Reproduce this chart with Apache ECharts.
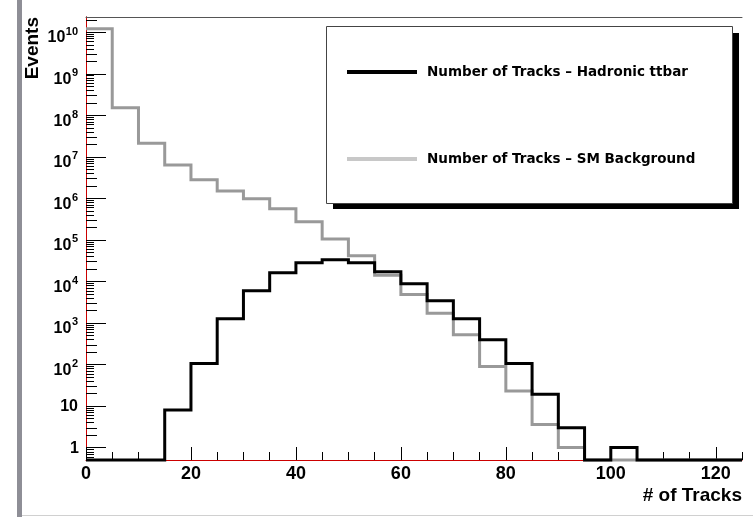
<!DOCTYPE html>
<html>
<head>
<meta charset="utf-8">
<script src="https://cdn.jsdelivr.net/npm/echarts@6/dist/echarts.min.js"></script>
<style>
html,body{margin:0;padding:0;background:#fff;}
#chart{width:753px;height:517px;}
</style>
</head>
<body>
<div id="chart"></div>
<script>
// ---- data ----
const binEdges = [0,5,10,15,20,25,30,35,40,45,50,55,60,65,70,75,80,85,90,95,100,105,110,115,120,125];
const bgName = 'Number of Tracks \u2013 SM Background';
const ttName = 'Number of Tracks \u2013 Hadronic ttbar';
const bgValues = [1.2e10,1.5e8,2.1e7,6.3e6,2.8e6,1.5e6,9.7e5,5.6e5,2.7e5,1.05e5,4.1e4,1.4e4,4.8e3,1.7e3,520,89,23,3.6,1,0,0,0,0,0,0];
const ttValues = [0,0,0,8,105,1260,5900,1.6e4,2.8e4,3.3e4,2.8e4,1.7e4,8.7e3,3.4e3,1260,390,105,19,3,0,1,0,0,0,0];
const xTickLabels = [0,20,40,60,80,100,120];
const yDecades = [-1,0,1,2,3,4,5,6,7,8,9,10];
const Y_MIN = 0.5, Y_MAX = 2.3e10;
const X_MIN = 0, X_MAX = 125;

// ---- build ----
function stepData(vals){
  return binEdges.map((e,i)=>{
    const v = vals[Math.min(i, vals.length-1)];
    return [e, v > 0 ? v : Y_MIN];
  });
}
const yTickData = [];
yDecades.forEach(n=>{
  for(let k=1;k<=9;k++){
    const v = k*Math.pow(10,n);
    if(v>Y_MIN && v<=Y_MAX) yTickData.push([0, v, k, n]);
  }
});
const FONT = '"Liberation Sans", Arial, sans-serif';
function txt(x, y, s, size, align){
  return {type:'text', x:x, y:y, silent:true,
    style:{text:s, fill:'#000', font:'bold '+size+'px '+FONT, align:align, verticalAlign:'middle',
           textAlign:align, textVerticalAlign:'middle'}};
}
const chart = echarts.init(document.getElementById('chart'), null, {renderer:'canvas'});
chart.setOption({
  animation:false,
  backgroundColor:'#ffffff',
  grid:{left:86, top:17, right:11, bottom:57, containLabel:false},
  xAxis:[
    {type:'value', min:X_MIN, max:X_MAX, interval:20, position:'bottom',
     axisLine:{show:true, onZero:false, lineStyle:{color:'#cc0000', width:1}},
     axisTick:{show:true, inside:true, length:13, lineStyle:{color:'#000', width:1}},
     splitLine:{show:false},
     axisLabel:{show:true, margin:5, showMaxLabel:false, fontFamily:'Liberation Sans', fontWeight:'bold', fontSize:18, color:'#000',
       formatter:v=> xTickLabels.indexOf(v)>=0 ? String(v) : ''},
     name:'# of Tracks', nameLocation:'end', nameGap:0,
     nameTextStyle:{fontFamily:'Liberation Sans', fontWeight:'bold', fontSize:19, color:'#000', align:'right', verticalAlign:'top', padding:[26,0,0,0]}
    },
    {type:'value', min:X_MIN, max:X_MAX, interval:5, position:'bottom',
     axisLine:{show:false}, axisTick:{show:true, inside:true, length:8, lineStyle:{color:'#000', width:1}},
     axisLabel:{show:false}, splitLine:{show:false}},
    {type:'value', min:X_MIN, max:X_MAX, position:'top',
     axisLine:{show:true, lineStyle:{color:'#555', width:1}}, axisTick:{show:false}, axisLabel:{show:false}, splitLine:{show:false}}
  ],
  yAxis:[
    {type:'log', min:Y_MIN, max:Y_MAX, position:'left',
     axisLine:{show:true, onZero:false, lineStyle:{color:'#000', width:1}},
     axisTick:{show:false}, splitLine:{show:false}, minorTick:{show:false},
     axisLabel:{show:false},
     name:'Events', nameLocation:'end', nameGap:0, nameRotate:90,
     nameTextStyle:{fontFamily:'Liberation Sans', fontWeight:'bold', fontSize:19, color:'#000', align:'right', verticalAlign:'bottom', padding:[0,0,44,0]}
    },
    {type:'value', min:0, max:1, position:'right',
     axisLine:{show:true, lineStyle:{color:'#cc0000', width:1}}, axisTick:{show:false}, axisLabel:{show:false}, splitLine:{show:false}}
  ],
  legend:{
    show:true, orient:'vertical', left:342, top:60, itemGap:73, itemWidth:70, itemHeight:4,
    selectedMode:false, z:20,
    textStyle:{fontFamily:'DejaVu Sans', fontWeight:'bold', fontSize:13.5, color:'#000', lineHeight:14, padding:[0,0,0,5]},
    data:[
      {name:ttName, icon:'rect', itemStyle:{color:'#000'}},
      {name:bgName, icon:'rect', itemStyle:{color:'#c8c8c8'}}
    ]
  },
  graphic:[
    {type:'rect', z:0, silent:true, shape:{x:17, y:0, width:5, height:517}, style:{fill:'#8e8e96'}},
    {type:'rect', z:0, silent:true, shape:{x:22, y:515, width:731, height:1}, style:{fill:'#d0d0d0'}},
    {type:'rect', z:10, silent:true, shape:{x:333, y:33, width:406, height:176}, style:{fill:'#000'}},
    {type:'rect', z:11, silent:true, shape:{x:326.5, y:26.5, width:406, height:177}, style:{fill:'#fff', stroke:'#444', lineWidth:1}}
  ],
  series:[
    {type:'line', name:bgName, xAxisIndex:0, yAxisIndex:0, step:'end', data:stepData(bgValues),
     showSymbol:false, symbol:'none', clip:false, silent:true,
     lineStyle:{color:'#999999', width:3, join:'miter', cap:'butt'}, itemStyle:{color:'#c8c8c8'}, z:3},
    {type:'line', name:ttName, xAxisIndex:0, yAxisIndex:0, step:'end', data:stepData(ttValues),
     showSymbol:false, symbol:'none', clip:false, silent:true,
     lineStyle:{color:'#000000', width:3, join:'miter', cap:'butt'}, itemStyle:{color:'#000'}, z:4},
    {type:'custom', xAxisIndex:0, yAxisIndex:0, silent:true, clip:false, z:5,
     dimensions:['x','y','k','n'], encode:{x:0, y:1}, data:yTickData,
     renderItem:function(params, api){
       const v = api.value(1), k = api.value(2), n = api.value(3);
       const p = api.coord([0, v]);
       const y = Math.round(p[1]) + 0.5;
       const len = k===1 ? 20 : (k<=3 ? 11 : 8);
       const children = [{type:'line', shape:{x1:p[0], y1:y, x2:p[0]+len, y2:y}, style:{stroke:'#000', lineWidth:1}}];
       if(k===1 && n>=0){
         const xr = p[0] - 8;
         if(n===0){ children.push(txt(xr+1, p[1]+1, '1', 16, 'right')); }
         else if(n===1){ children.push(txt(xr, p[1]+1, '10', 16, 'right')); }
         else {
           const es = String(n);
           const supW = es.length*6.1;
           children.push(txt(xr, p[1]-0.5, es, 11, 'right'));
           children.push(txt(xr - supW - 0.5, p[1]+6, '10', 16, 'right'));
         }
       }
       return {type:'group', children:children};
     }}
  ]
});
</script>
</body>
</html>
